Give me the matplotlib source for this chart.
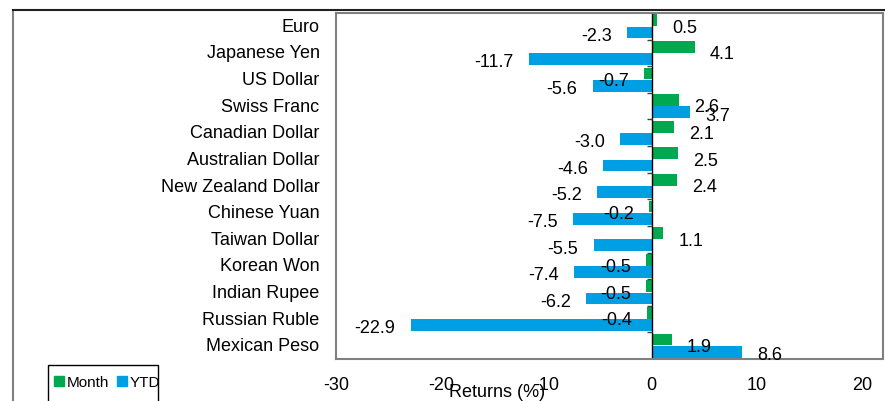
import matplotlib
matplotlib.use("Agg")
import matplotlib.pyplot as plt
from matplotlib.lines import Line2D
from matplotlib.patches import Patch, Rectangle
import numpy as np

plt.rcParams['font.family'] = ['Liberation Sans', 'DejaVu Sans']
plt.rcParams['axes.unicode_minus'] = False

# data
currencies = ['Euro', 'Japanese Yen', 'US Dollar', 'Swiss Franc', 'Canadian Dollar',
              'Australian Dollar', 'New Zealand Dollar', 'Chinese Yuan', 'Taiwan Dollar',
              'Korean Won', 'Indian Rupee', 'Russian Ruble', 'Mexican Peso']
month = [0.5, 4.1, -0.7, 2.6, 2.1, 2.5, 2.4, -0.2, 1.1, -0.5, -0.5, -0.4, 1.9]
ytd = [-2.3, -11.7, -5.6, 3.7, -3.0, -4.6, -5.2, -7.5, -5.5, -7.4, -6.2, -22.9, 8.6]
xticks = [-30, -20, -10, 0, 10, 20]

GREEN = '#00A84F'
BLUE = '#009FE3'

fig = plt.figure(figsize=(8.85, 4.02), dpi=100)
ax = fig.add_axes([336/885, 1 - 360/402, (883 - 336)/885, (360 - 14)/402])

y = np.arange(len(currencies))
h = 0.44
ax.barh(y - 0.23, month, height=h, color=GREEN)
ax.barh(y + 0.23, ytd, height=h, color=BLUE)

# value labels
for yy, v in zip(y, month):
    ax.annotate(f'{v:.1f}', (v, yy - 0.23), xytext=(11 if v >= 0 else -11, -5),
                textcoords='offset points', ha='left' if v >= 0 else 'right',
                va='center', fontsize=13)
for yy, v in zip(y, ytd):
    ax.annotate(f'{v:.1f}', (v, yy + 0.23), xytext=(11 if v >= 0 else -11, -2),
                textcoords='offset points', ha='left' if v >= 0 else 'right',
                va='center', fontsize=13)

# category labels left of the plot box
for yy, name in zip(y, currencies):
    ax.text(-0.03, yy, name, transform=ax.get_yaxis_transform(), ha='right',
            va='center', fontsize=13)

ax.axvline(0, color='black', lw=1)
ax.hlines(np.arange(len(currencies)) + 0.5, -0.45, 0, color='#404040', lw=1)

ax.set_xlim(-30, 22)
ax.set_ylim(len(currencies) - 0.5, -0.5)
ax.set_yticks([])
ax.set_xticks(xticks)
ax.tick_params(axis='x', length=0, labelsize=13, pad=12)
for s in ax.spines.values():
    s.set_color('#808080')
    s.set_linewidth(1.5)

fig.text(497/885, 1 - 393/402, 'Returns (%)', ha='center', va='center', fontsize=13)

# outer frame of the chart area
fig.add_artist(Line2D([13/885, 13/885], [0, 1 - 11/402], transform=fig.transFigure,
                      color='#808080', lw=1.5))
fig.add_artist(Line2D([13/885, 1], [1 - 11/402, 1 - 11/402], transform=fig.transFigure,
                      color='#202020', lw=1.5))

# legend box runs off the bottom edge, as in the reference
fig.add_artist(Rectangle((48/885, -0.05), 110/885, 0.05 + 1 - 366/402,
                         transform=fig.transFigure, fill=False, edgecolor='black', lw=1))
handles = [Patch(color=GREEN, label='Month'), Patch(color=BLUE, label='YTD')]
fig.legend(handles=handles, loc='center left', bbox_to_anchor=(54/885, 1 - 383/402),
           ncol=2, frameon=False, fontsize=11, handlelength=0.65, handleheight=0.65,
           handletextpad=0.2, columnspacing=0.5, borderpad=0, borderaxespad=0)

fig.savefig('out.png', dpi=100)
